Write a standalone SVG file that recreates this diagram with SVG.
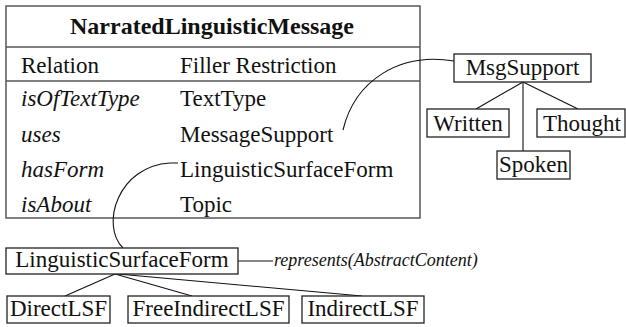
<svg xmlns="http://www.w3.org/2000/svg" width="626" height="327" viewBox="0 0 626 327" font-family="'Liberation Serif', 'DejaVu Serif', serif">
  <style>
    .frame { fill: #fff; stroke: #555; stroke-width: 1.5; }
    .rule { stroke: #555; stroke-width: 1.5; }
    .box { fill: #fff; stroke: #222; stroke-width: 1.3; }
    .line { fill: none; stroke: #111; stroke-width: 1.1; }
    text { font-family: 'Liberation Serif', 'DejaVu Serif', serif; font-size: 23px; fill: #111; }
    .c { text-anchor: middle; }
    .i { font-style: italic; }
    .h { font-weight: bold; font-size: 24px; }
    .s { font-size: 18px; font-style: italic; }
  </style>
  <rect width="626" height="327" fill="#fff"/>

  <!-- frame table of the message class -->
  <g id="NarratedLinguisticMessage">
    <rect class="frame" x="6" y="6" width="414" height="212"/>
    <line class="rule" x1="6" y1="47" x2="420" y2="47"/>
    <line class="rule" x1="6" y1="81" x2="420" y2="81"/>
    <text class="h c" x="212" y="34">NarratedLinguisticMessage</text>
    <text x="21" y="73">Relation</text>
    <text x="180" y="73">Filler Restriction</text>
    <text class="i" x="21" y="106">isOfTextType</text>
    <text x="180" y="106">TextType</text>
    <text class="i" x="21" y="142">uses</text>
    <text x="180" y="142">MessageSupport</text>
    <text class="i" x="21" y="177">hasForm</text>
    <text x="180" y="177">LinguisticSurfaceForm</text>
    <text class="i" x="21" y="212">isAbout</text>
    <text x="180" y="212">Topic</text>
  </g>

  <!-- connectors -->
  <g id="connectors">
    <path class="line" d="M343,130 C355,80 400,52 454,61"/>
    <path class="line" d="M178,163 L170,163 C118,166 100,225 123,248"/>
    <line class="line" x1="523" y1="82" x2="476" y2="109"/>
    <line class="line" x1="523" y1="82" x2="523" y2="151"/>
    <line class="line" x1="523" y1="82" x2="578" y2="109"/>
    <line class="line" x1="115" y1="274" x2="65" y2="296"/>
    <line class="line" x1="115" y1="274" x2="192" y2="296"/>
    <line class="line" x1="118" y1="274" x2="362" y2="296"/>
    <line class="line" x1="238" y1="261" x2="273" y2="261"/>
  </g>

  <g id="MsgSupport">
    <rect class="box" x="454" y="54" width="137" height="28"/>
    <text class="c" x="522.5" y="75">MsgSupport</text>
  </g>
  <g id="Written">
    <rect class="box" x="427" y="109" width="82" height="28"/>
    <text class="c" x="468" y="131">Written</text>
  </g>
  <g id="Thought">
    <rect class="box" x="537" y="109" width="88" height="28"/>
    <text class="c" x="582" y="131">Thought</text>
  </g>
  <g id="Spoken">
    <rect class="box" x="497" y="151" width="73" height="28"/>
    <text class="c" x="533.5" y="172">Spoken</text>
  </g>

  <g id="LinguisticSurfaceForm">
    <rect class="box" x="6" y="248" width="232" height="26"/>
    <text class="c" x="122" y="267">LinguisticSurfaceForm</text>
    <text class="s" x="274" y="266">represents(AbstractContent)</text>
  </g>
  <g id="DirectLSF">
    <rect class="box" x="7" y="296" width="103" height="27"/>
    <text class="c" x="58.5" y="316">DirectLSF</text>
  </g>
  <g id="FreeIndirectLSF">
    <rect class="box" x="128" y="296" width="161" height="27"/>
    <text class="c" x="208.5" y="316">FreeIndirectLSF</text>
  </g>
  <g id="IndirectLSF">
    <rect class="box" x="302" y="296" width="122" height="27"/>
    <text class="c" x="363" y="316">IndirectLSF</text>
  </g>
</svg>
